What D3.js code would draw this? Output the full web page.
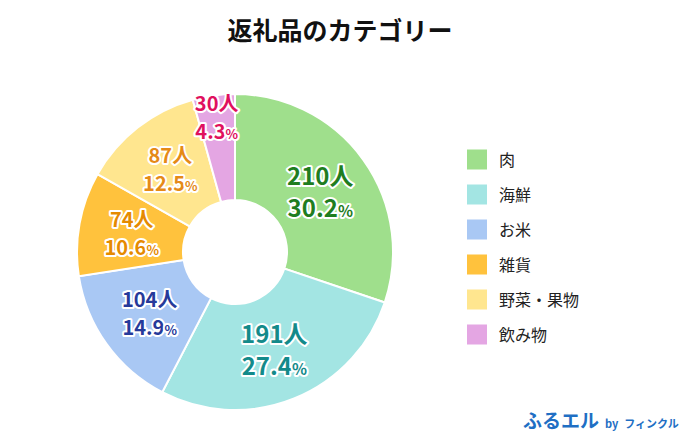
<!DOCTYPE html>
<html><head><meta charset="utf-8">
<script src="https://cdn.jsdelivr.net/npm/d3@7"></script>
<style>body{margin:0;background:#fff;font-family:"Noto Sans CJK JP","Noto Sans",sans-serif;}</style>
</head><body>
<script>
const categories = ["肉", "海鮮", "お米", "雑貨", "野菜・果物", "飲み物"];
const people = [210, 191, 104, 74, 87, 30];
const percents = ["30.2", "27.4", "14.9", "10.6", "12.5", "4.3"];
const fills = ["#9fdf8c", "#a3e5e3", "#a9c8f4", "#ffc23d", "#ffe68f", "#e4a6e3"];
const labelColors = ["#1f7d1f", "#138a8a", "#263a9a", "#e58a00", "#e58a17", "#e0105e"];

const width = 680, height = 440;
const cx = 235, cy = 252, rOut = 158, rIn = 52;

const svg = d3.select("body").append("svg")
  .attr("width", width).attr("height", height);

svg.append("text").attr("x", 340).attr("y", 40).attr("text-anchor", "middle")
  .attr("font-size", 25).attr("font-weight", 700).attr("fill", "#111")
  .text("返礼品のカテゴリー");

const pie = d3.pie().sort(null).value(d => d)(people);
const arc = d3.arc().innerRadius(rIn).outerRadius(rOut);
const labelArc = d3.arc().innerRadius(105).outerRadius(105);
const smallArc = d3.arc().innerRadius(136).outerRadius(136);

const g = svg.append("g").attr("transform", `translate(${cx},${cy})`);
g.selectAll("path").data(pie).enter().append("path")
  .attr("d", arc).attr("fill", (d, i) => fills[i])
  .attr("stroke", "#fff").attr("stroke-width", 2);

const labels = g.selectAll("g.lab").data(pie).enter().append("g")
  .attr("transform", (d, i) => `translate(${(i === 5 ? smallArc : labelArc).centroid(d)})`);
labels.each(function (d, i) {
  const el = d3.select(this);
  const big = i < 2 ? 24 : 20;
  const t1 = el.append("text").attr("y", -6).text(people[i] + "人");
  const t2 = el.append("text").attr("y", big + 2);
  t2.append("tspan").text(percents[i]);
  t2.append("tspan").attr("font-size", big * 0.65).text("%");
  [t1, t2].forEach(t => t.attr("text-anchor", "middle").attr("font-size", big)
    .attr("font-weight", 700).attr("fill", labelColors[i])
    .attr("stroke", "#fff").attr("stroke-width", 4).attr("paint-order", "stroke")
    .attr("stroke-linejoin", "round"));
});

const y = d3.scaleBand().domain(categories).range([142, 352]);
const leg = svg.append("g").selectAll("g").data(categories).enter().append("g")
  .attr("transform", d => `translate(467,${y(d) + y.bandwidth() / 2})`);
leg.append("rect").attr("x", 0).attr("y", -10).attr("width", 20).attr("height", 20)
  .attr("fill", (d, i) => fills[i]);
leg.append("text").attr("x", 32).attr("y", 6).attr("font-size", 16).attr("fill", "#222")
  .text(d => d);

const foot = svg.append("text").attr("x", 523).attr("y", 428).attr("fill", "#1f6fc4").attr("font-weight", 700);
foot.append("tspan").attr("font-size", 19).text("ふるエル");
foot.append("tspan").attr("font-size", 11).attr("dx", 6).text("by");
foot.append("tspan").attr("font-size", 11).attr("dx", 6).text("フィンクル");
</script>
</body></html>
